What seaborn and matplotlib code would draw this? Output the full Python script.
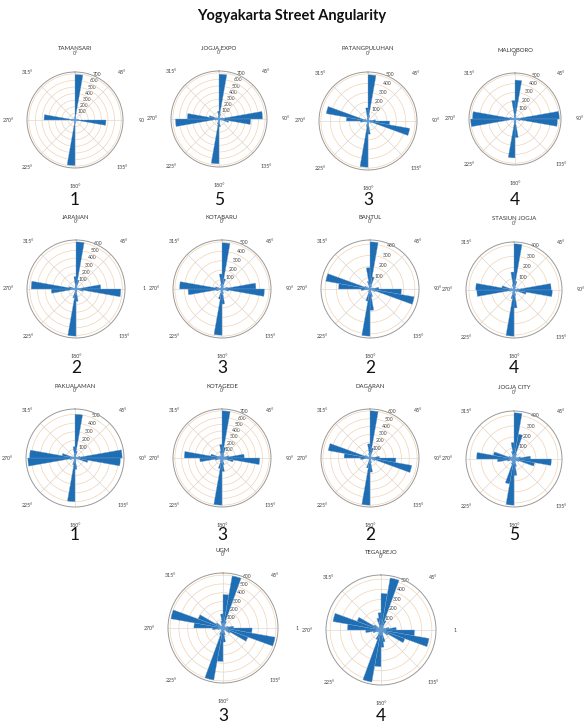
import numpy as np
import pandas as pd
import matplotlib
matplotlib.use("Agg")
import matplotlib.pyplot as plt
import seaborn as sns

# ---------------- data ----------------
names = ["TAMANSARI", "JOGJA EXPO", "PATANGPULUHAN", "MALIOBORO",
         "JARANAN", "KOTABARU", "BANTUL", "STASIUN JOGJA",
         "PAKUALAMAN", "KOTAGEDE", "DAGARAN", "JOGJA CITY",
         "UGM", "TEGALREJO"]
ranks = ["1", "5", "3", "4", "2", "3", "2", "4", "1", "3", "2", "5", "3", "4"]

# counts per 10-degree bearing bin, 0..170 deg (mirrored for 180..350)
tamansari = [690, 40, 20, 15, 10, 10, 15, 20, 60, 470, 50, 20, 10, 10, 15, 10, 20, 50]
jogja_expo = [680, 80, 30, 20, 15, 15, 20, 60, 660, 480, 150, 40, 20, 15, 15, 20, 40, 120]
patangpuluhan = [490, 60, 20, 15, 10, 10, 15, 30, 80, 230, 450, 40, 15, 10, 10, 15, 30, 140]
malioboro = [440, 40, 15, 10, 10, 10, 15, 40, 500, 480, 60, 20, 10, 10, 10, 15, 40, 210]
jaranan = [610, 120, 30, 20, 15, 15, 20, 40, 320, 580, 90, 25, 15, 15, 15, 20, 40, 160]
kotabaru = [490, 110, 30, 20, 15, 15, 20, 60, 360, 450, 70, 25, 15, 15, 15, 20, 50, 160]
bantul = [420, 110, 30, 15, 10, 10, 15, 30, 80, 280, 400, 50, 15, 10, 10, 20, 70, 190]
stasiun_jogja = [410, 80, 30, 15, 10, 10, 15, 40, 330, 340, 110, 30, 15, 10, 10, 20, 50, 160]
pakualaman = [500, 80, 25, 15, 10, 10, 20, 60, 540, 520, 150, 30, 15, 10, 10, 15, 40, 130]
kotagede = [700, 160, 60, 40, 30, 30, 40, 100, 330, 560, 170, 60, 30, 30, 30, 40, 100, 200]
dagaran = [600, 130, 30, 20, 15, 15, 20, 40, 120, 330, 540, 70, 20, 15, 15, 20, 60, 180]
jogja_city = [420, 230, 50, 25, 20, 20, 30, 60, 150, 340, 190, 50, 25, 20, 20, 30, 70, 150]
ugm = [380, 600, 80, 30, 20, 20, 30, 60, 120, 330, 600, 300, 90, 30, 20, 30, 80, 160]
tegalrejo = [360, 520, 100, 40, 25, 25, 40, 80, 150, 330, 480, 250, 80, 30, 25, 40, 120, 170]

series = [tamansari, jogja_expo, patangpuluhan, malioboro, jaranan, kotabaru,
          bantul, stasiun_jogja, pakualaman, kotagede, dagaran, jogja_city,
          ugm, tegalrejo]

# highest radial tick label per plot
top_ticks = [700, 700, 500, 500, 600, 500, 400, 400, 500, 700, 600, 400, 600, 500]

theta_labels = ["0°", "45°", "90°", "135°", "180°", "225°", "270°", "315°"]
east_labels = ["90", "90°", "90°", "90°", "1", "90°", "90°", "90°",
               "90°", "90°", "90°", "", "1", "1"]

# ---------------- layout ----------------
W, H = 584, 726
centers_px = [(75, 120, 48), (219, 119, 48), (368, 121, 49), (515, 119, 46),
              (76, 289, 49), (222, 289, 49), (370, 289, 49), (514, 290, 48),
              (75, 458, 49), (222, 458, 49), (370, 458, 49), (514, 459, 48),
              (223, 628, 55), (381, 630, 55)]
rank_y = [200, 200, 200, 200, 368, 368, 368, 368, 535, 535, 535, 535, 716, 716]

sns.set_theme(style="white")
plt.rcParams['font.family'] = ['Lato', 'DejaVu Sans']

fig = plt.figure(figsize=(W / 100, H / 100), dpi=100)
fig.patch.set_facecolor("white")

fig.text(292 / W, 1 - 16 / H, "Yogyakarta Street Angularity",
         ha="center", va="center", fontsize=10.5, fontweight="bold",
         color="#111111")

edges = np.arange(0, 361, 10)
mids = edges[:-1] + 5
bin_edges_rad = [float(v) for v in np.deg2rad(edges)]
bar_color = "#1f6db3"

for i, name in enumerate(names):
    cx, cy, r = centers_px[i]
    ax = fig.add_axes([(cx - r) / W, 1 - (cy + r) / H, 2 * r / W, 2 * r / H],
                      projection="polar")
    counts = np.array(series[i] + series[i], dtype=float)
    df = pd.DataFrame({"bearing": np.deg2rad(mids), "count": counts})
    sns.histplot(data=df, x="bearing", weights="count", bins=bin_edges_rad,
                 ax=ax, color=bar_color, edgecolor="#6fa3d6", linewidth=0.25,
                 alpha=1.0, zorder=3)
    ax.set_theta_zero_location("N")
    ax.set_theta_direction(-1)
    top = top_ticks[i]
    outer = max(max(series[i]), top) * 1.04
    ax.set_ylim(0, outer)
    ax.set_xlabel("")
    ax.set_ylabel("")
    ax.set_xticks(np.deg2rad(np.arange(0, 360, 45)))
    labs = list(theta_labels)
    labs[2] = east_labels[i]
    ax.set_xticklabels(labs)
    ax.tick_params(axis="x", labelsize=3.8, pad=0.5, colors="#444444")
    rt = list(range(100, top + 1, 100))
    ax.set_yticks(rt)
    ax.set_yticklabels([str(v) for v in rt])
    ax.tick_params(axis="y", labelsize=3.6, colors="#444444")
    ax.set_rlabel_position(22.5)
    ax.xaxis.grid(True, color="#d9d9d9", linewidth=0.5)
    ax.yaxis.grid(True, color="#f1d3b3", linewidth=0.5)
    ax.spines["polar"].set_color("#9a9a9a")
    ax.spines["polar"].set_linewidth(0.7)
    ax.set_facecolor("white")
    for t in ax.yaxis.get_ticklabels():
        t.set_zorder(5)

    fig.text(cx / W, 1 - (cy - r - 23) / H, name, ha="center", va="center",
             fontsize=4.3, color="#333333")
    fig.text(cx / W, 1 - rank_y[i] / H, ranks[i], ha="center", va="center",
             fontsize=12.5, color="#111111")

fig.savefig("out.png", dpi=100, facecolor="white")
